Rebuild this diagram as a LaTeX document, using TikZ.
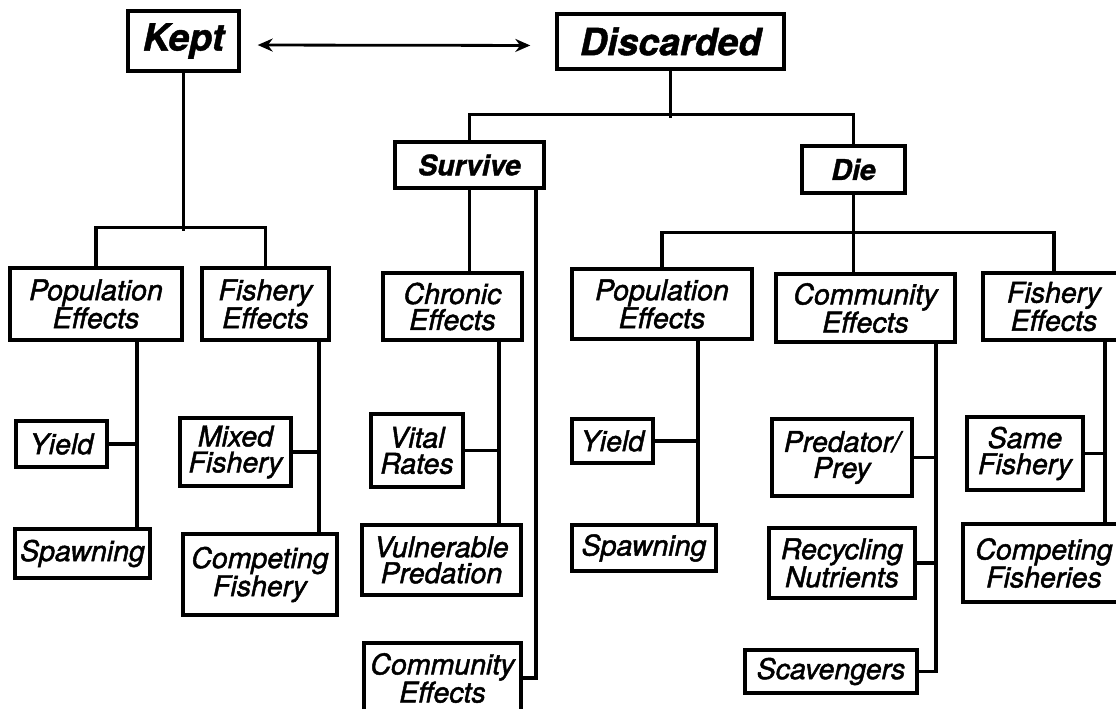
\documentclass[tikz,border=0pt]{standalone}
\usepackage{fontspec}
\setmainfont{TeX Gyre Heros}[ItalicFeatures={FakeBold=1.6}, BoldItalicFeatures={FakeBold=1.2}]
\usepackage{tikz}
\usetikzlibrary{calc}
\usetikzlibrary{arrows.meta}
\tikzstyle{headbox} = [rectangle, 
draw=black, 
line width=3.4pt, 
inner sep=0pt, 
text centered, 
font=\fontsize{37.5}{40}\selectfont\bfseries\itshape]
\tikzstyle{splitbox} = [rectangle, 
draw=black, 
line width=3.4pt, 
inner sep=0pt, 
text centered, 
font=\fontsize{28.5}{26}\selectfont\bfseries\itshape]
\tikzstyle{effectbox} = [rectangle, 
draw=black, 
line width=3.4pt, 
inner sep=0pt, 
align=center, 
font=\fontsize{28.5}{26}\selectfont\itshape]
\tikzstyle{link} = [line width=3.2pt]
\tikzstyle{arrow} = [line width=2.8pt,<->,>={Stealth[length=15pt, width=13pt]}]

\begin{document}
\begin{tikzpicture} [x=1pt, y=-1pt]
    \useasboundingbox (0,0) rectangle (1116,709);

    \node (kept) [headbox, minimum width=111pt, minimum height=60pt] at (183.5,41) {Kept};
    \node (disc) [headbox, minimum width=227pt, minimum height=55pt] at (670.5,41.5) {Discarded};
    \node (survive) [splitbox, minimum width=149pt, minimum height=46pt] at (469.5,165) {Survive};
    \node (die) [splitbox, minimum width=103pt, minimum height=47pt] at (853.5,169.5) {Die};

    \node (popL) [effectbox, minimum width=172pt, minimum height=72pt] at (96,304) {Population\\Effects};
    \node (fishL) [effectbox, minimum width=127pt, minimum height=72pt] at (265.5,304) {Fishery\\Effects};
    \node (chronic) [effectbox, minimum width=139pt, minimum height=67pt] at (452.5,306.5) {Chronic\\Effects};
    \node (popR) [effectbox, minimum width=180pt, minimum height=70pt] at (662,304) {Population\\Effects};
    \node (commD) [effectbox, minimum width=179pt, minimum height=68pt] at (865.5,308) {Community\\Effects};
    \node (fishR) [effectbox, minimum width=142pt, minimum height=67pt] at (1054,306.5) {Fishery\\Effects};

    \node (yieldL) [effectbox, minimum width=91pt, minimum height=46pt] at (61.5,444) {Yield};
    \node (spawnL) [effectbox, minimum width=135pt, minimum height=49pt] at (82.5,553.5) {Spawning};
    \node (mixed) [effectbox, minimum width=111pt, minimum height=68pt] at (235.5,452) {Mixed\\Fishery};
    \node (compL) [effectbox, minimum width=154pt, minimum height=81pt] at (260,574.5) {Competing\\Fishery};
    \node (vital) [effectbox, minimum width=92pt, minimum height=73pt] at (417,450.5) {Vital\\Rates};
    \node (vuln) [effectbox, minimum width=159pt, minimum height=70pt] at (441.5,560) {Vulnerable\\Predation};
    \node (commS) [effectbox, minimum width=157pt, minimum height=70pt] at (442.5,678) {Community\\Effects};
    \node (yieldR) [effectbox, minimum width=81pt, minimum height=44pt] at (612.5,441) {Yield};
    \node (spawnR) [effectbox, minimum width=144pt, minimum height=46pt] at (644,548) {Spawning};
    \node (pred) [effectbox, minimum width=140pt, minimum height=77pt] at (842,457.5) {Predator/\\Prey};
    \node (recyc) [effectbox, minimum width=146pt, minimum height=70pt] at (842,563) {Recycling\\Nutrients};
    \node (scav) [effectbox, minimum width=172pt, minimum height=43pt] at (831,671.5) {Scavengers};
    \node (same) [effectbox, minimum width=116pt, minimum height=73pt] at (1025,453.5) {Same\\Fishery};
    \node (compR) [effectbox, minimum width=162pt, minimum height=78pt] at (1044,563) {Competing\\Fisheries};

    % trunks leaving the bottom edges
    \coordinate (popLbus) at ([xshift=41pt]popL.south);
    \coordinate (fishLbus) at ([xshift=53.5pt]fishL.south);
    \coordinate (chronicbus) at ([xshift=46.5pt]chronic.south);
    \coordinate (survbus) at ([xshift=66.5pt]survive.south);
    \coordinate (popRbus) at ([xshift=36pt]popR.south);
    \coordinate (commDbus) at ([xshift=70.5pt]commD.south);
    \coordinate (fishRbus) at ([xshift=51pt]fishR.south);

    \draw [arrow, shorten <=17pt, shorten >=25pt] ([yshift=-4pt]kept.east) -- ([yshift=-4pt]disc.west);

    \draw [link] (kept.south) -- ++(0,158);
    \draw [link] (popL.north) -- ++(0,-39) -| (fishL.north);
    \draw [link] (disc.south) -- ++(0,47);
    \draw [link] (survive.north) -- ++(0,-26) -| (die.north);
    \draw [link] (survive.south) -- (survive.south |- chronic.north);
    \draw [link] (die.south) -- (die.south |- commD.north);
    \draw [link] (popR.north) -- ++(0,-35) -| (fishR.north);

    \draw [link] (popLbus) -- (popLbus |- spawnL.north);
    \draw [link] (yieldL.east) -- (yieldL.east -| popLbus);
    \draw [link] (fishLbus) -- (fishLbus |- compL.north);
    \draw [link] (mixed.east) -- (mixed.east -| fishLbus);
    \draw [link] (chronicbus) -- (chronicbus |- vuln.north);
    \draw [link] (vital.east) -- (vital.east -| chronicbus);
    \draw [link] (survbus) |- (commS.east);
    \draw [link] (popRbus) -- (popRbus |- spawnR.north);
    \draw [link] (yieldR.east) -- (yieldR.east -| popRbus);
    \draw [link] (commDbus) |- (scav.east);
    \draw [link] (pred.east) -- (pred.east -| commDbus);
    \draw [link] (recyc.east) -- (recyc.east -| commDbus);
    \draw [link] (fishRbus) -- (fishRbus |- compR.north);
    \draw [link] (same.east) -- (same.east -| fishRbus);

\end{tikzpicture}
\end{document}
